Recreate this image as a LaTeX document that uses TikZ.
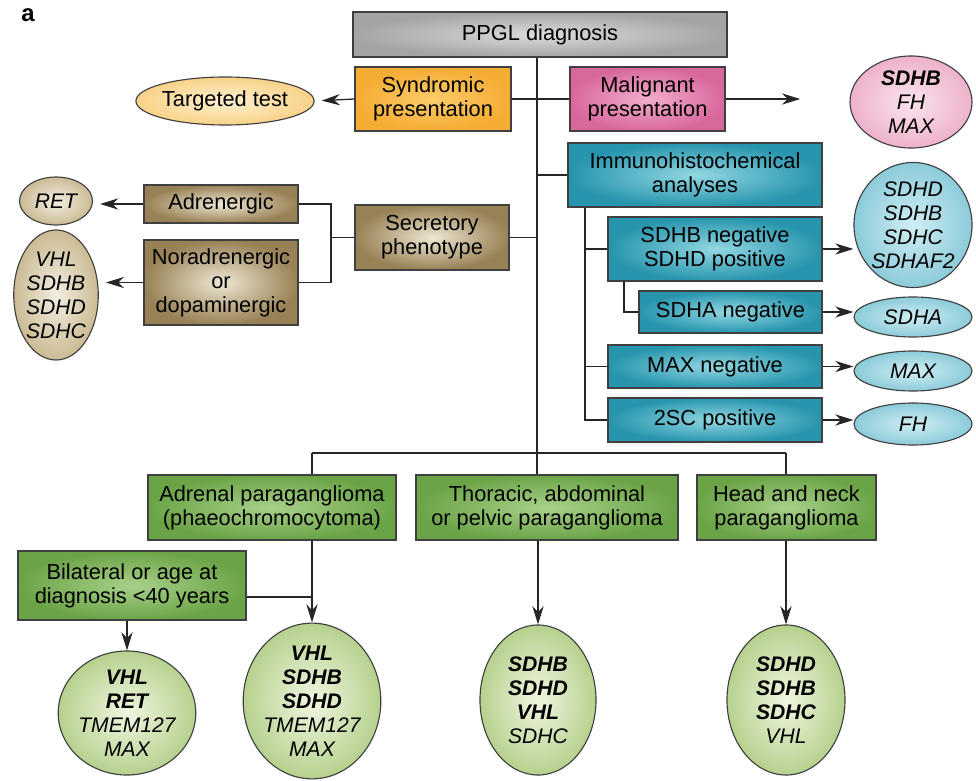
\documentclass[tikz,border=0pt]{standalone}
\usepackage{fontspec}
\setmainfont{Liberation Sans}
\usetikzlibrary{shapes.geometric,arrows.meta}

\definecolor{greyin}{HTML}{DCDCDC}
\definecolor{greyout}{HTML}{A4A4A4}
\definecolor{orangein}{HTML}{FCCB6A}
\definecolor{orangeout}{HTML}{F5AC33}
\definecolor{targin}{HTML}{FEF0CF}
\definecolor{targout}{HTML}{F8D288}
\definecolor{pinkin}{HTML}{F2AECD}
\definecolor{pinkout}{HTML}{D8679C}
\definecolor{malin}{HTML}{FBE3EE}
\definecolor{malout}{HTML}{EDB2CB}
\definecolor{tealin}{HTML}{92D7E2}
\definecolor{tealout}{HTML}{2795AD}
\definecolor{tealellin}{HTML}{D0EEF3}
\definecolor{tealellout}{HTML}{8CCBDA}
\definecolor{brownin}{HTML}{EEE7D3}
\definecolor{brownout}{HTML}{988155}
\definecolor{brownellin}{HTML}{F3EEE2}
\definecolor{brownellout}{HTML}{CBBB94}
\definecolor{greenin}{HTML}{A8D089}
\definecolor{greenout}{HTML}{6BA447}
\definecolor{greenellin}{HTML}{F0F6E0}
\definecolor{greenellout}{HTML}{B6D18E}

\tikzset{
  box/.style={draw=black!75, line width=0.8pt, rectangle, inner sep=0pt, align=center,
    font=\fontsize{15.5}{17}\selectfont},
  greybox/.style={box, inner color=greyin, outer color=greyout},
  orangebox/.style={box, inner color=orangein, outer color=orangeout},
  pinkbox/.style={box, inner color=pinkin, outer color=pinkout},
  tealbox/.style={box, inner color=tealin, outer color=tealout},
  brownbox/.style={box, inner color=brownin, outer color=brownout},
  greenbox/.style={box, inner color=greenin, outer color=greenout},
  gene/.style={draw=black!75, line width=0.8pt, ellipse, inner sep=0pt, align=center,
    font=\fontsize{15}{17}\selectfont\itshape},
  targell/.style={gene, font=\fontsize{15.5}{17}\selectfont, inner color=targin, outer color=targout},
  pinkell/.style={gene, inner color=malin, outer color=malout},
  tealell/.style={gene, inner color=tealellin, outer color=tealellout},
  brownell/.style={gene, inner color=brownellin, outer color=brownellout},
  greenell/.style={gene, inner color=greenellin, outer color=greenellout},
  conn/.style={draw=black!85, line width=0.9pt},
  arr/.style={conn, -{Stealth[length=13pt,width=8pt]}}
}

\begin{document}
\begin{tikzpicture}[x=0.025cm,y=-0.025cm]
\useasboundingbox (0,0) rectangle (976,781);

\node[font=\bfseries\fontsize{17}{17}\selectfont] (lbl) at (28,15) {a};

\node[greybox, minimum width=9.35cm, minimum height=1.125cm] (diag) at (540,34.5) {PPGL diagnosis};
\node[orangebox, minimum width=3.9cm, minimum height=1.6cm] (synd) at (433,99) {Syndromic\\presentation};
\node[pinkbox, minimum width=3.875cm, minimum height=1.6cm] (malig) at (647.5,99) {Malignant\\presentation};
\node[tealbox, minimum width=6.35cm, minimum height=1.6cm] (immuno) at (695,175) {Immunohistochemical\\analyses};
\node[tealbox, minimum width=5.35cm, minimum height=1.6cm] (sdhbneg) at (715,249) {SDHB negative\\SDHD positive};
\node[tealbox, minimum width=4.575cm, minimum height=1.05cm] (sdhaneg) at (730.5,312) {SDHA negative};
\node[tealbox, minimum width=5.35cm, minimum height=1.075cm] (maxneg) at (715,366.5) {MAX negative};
\node[tealbox, minimum width=5.35cm, minimum height=1.1cm] (scpos) at (715,420) {2SC positive};
\node[brownbox, minimum width=3.85cm, minimum height=1.625cm] (secr) at (432,237.5) {Secretory\\phenotype};
\node[brownbox, minimum width=3.85cm, minimum height=0.95cm] (adren) at (221,204) {Adrenergic};
\node[brownbox, minimum width=3.85cm, minimum height=2.125cm] (noradr) at (221,282.5) {Noradrenergic\\or\\dopaminergic};
\node[greenbox, minimum width=6.2cm, minimum height=1.625cm] (adrenal) at (272,507.5) {Adrenal paraganglioma\\(phaeochromocytoma)};
\node[greenbox, minimum width=6.55cm, minimum height=1.625cm] (thorac) at (547,507.5) {Thoracic, abdominal\\or pelvic paraganglioma};
\node[greenbox, minimum width=4.475cm, minimum height=1.625cm] (headneck) at (786.5,507.5) {Head and neck\\paraganglioma};
\node[greenbox, minimum width=5.7cm, minimum height=1.725cm] (bilat) at (132,585.5) {Bilateral or age at\\diagnosis <40 years};

\node[targell, minimum width=3.75cm, minimum height=1.2cm] (targ) at (225,101) {Targeted test};
\node[pinkell, minimum width=3.05cm, minimum height=2.3cm] (malgenes) at (911,102) {\textbf{SDHB}\\FH\\MAX};
\node[tealell, minimum width=2.95cm, minimum height=3.125cm] (sdhgenes) at (913,225) {SDHD\\SDHB\\SDHC\\SDHAF2};
\node[tealell, minimum width=2.95cm, minimum height=1cm] (sdhagene) at (913,317) {SDHA};
\node[tealell, minimum width=2.95cm, minimum height=1cm] (maxgene) at (913,371) {MAX};
\node[tealell, minimum width=2.95cm, minimum height=1.05cm] (fhgene) at (913,424) {FH};
\node[brownell, minimum width=1.825cm, minimum height=1.2cm] (retgene) at (56,201) {RET};
\node[brownell, minimum width=1.825cm, minimum height=3.25cm] (vhlgenes) at (56,295) {VHL\\SDHB\\SDHD\\SDHC};
\node[greenell, minimum width=2.95cm, minimum height=3.1cm] (bilgenes) at (127,713) {\textbf{VHL}\\\textbf{RET}\\TMEM127\\MAX};
\node[greenell, minimum width=2.925cm, minimum height=3.8cm] (adrgenes) at (312,701) {\textbf{VHL}\\\textbf{SDHB}\\\textbf{SDHD}\\TMEM127\\MAX};
\node[greenell, minimum width=2.9cm, minimum height=3.75cm] (thogenes) at (538,700) {\textbf{SDHB}\\\textbf{SDHD}\\\textbf{VHL}\\SDHC};
\node[greenell, minimum width=2.95cm, minimum height=3.75cm] (hngenes) at (786,700) {\textbf{SDHD}\\\textbf{SDHB}\\\textbf{SDHC}\\VHL};

\coordinate (tb) at (537,453);
\coordinate (ib) at (585,420);
\coordinate (sb) at (624,312);
\coordinate (lb) at (331,239);
\coordinate (hl) at (312,453);
\coordinate (hr) at (786,453);
\coordinate (bj) at (312,597);

\draw[conn] (diag.south -| tb) -- (tb);
\draw[conn] (synd.east) -- (malig.west);
\draw[conn] (immuno.west -| tb) -- (immuno.west);
\draw[conn] (secr.east) -- (secr.east -| tb);
\draw[conn] (immuno.south -| ib) -- (scpos.west -| ib) -- (scpos.west);
\draw[conn] (sdhbneg.west -| ib) -- (sdhbneg.west);
\draw[conn] (maxneg.west -| ib) -- (maxneg.west);
\draw[conn] (sdhbneg.south -| sb) -- (sdhaneg.west -| sb) -- (sdhaneg.west);
\draw[conn] (secr.west) -- (secr.west -| lb);
\draw[conn] (adren.east) -- (adren.east -| lb) -- (noradr.east -| lb) -- (noradr.east);
\draw[conn] (hl) -- (hr);
\draw[conn] (tb) -- (thorac.north -| tb);
\draw[conn] (hl) -- (adrenal.north -| hl);
\draw[conn] (hr) -- (headneck.north -| hr);
\draw[conn] (bilat.east |- bj) -- (bj);

\draw[arr, shorten >=5pt] (synd.west) -- (targ.east);
\draw[arr, shorten >=35pt] (malig.east) -- (malgenes.west |- malig.east);
\draw[arr] (sdhbneg.east) -- (sdhgenes.west |- sdhbneg.east);
\draw[arr] (sdhaneg.east) -- (sdhagene.west |- sdhaneg.east);
\draw[arr] (maxneg.east) -- (maxgene.west |- maxneg.east);
\draw[arr] (scpos.east) -- (fhgene.west |- scpos.east);
\draw[arr, shorten >=5pt] (adren.west) -- (retgene.east |- adren.west);
\draw[arr, shorten >=5pt] (noradr.west) -- (vhlgenes.east |- noradr.west);
\draw[arr] (adrenal.south -| adrgenes) -- (adrgenes.north);
\draw[arr] (bilat.south -| bilgenes) -- (bilgenes.north);
\draw[arr] (thorac.south -| thogenes) -- (thogenes.north);
\draw[arr] (headneck.south -| hngenes) -- (hngenes.north);
\end{tikzpicture}
\end{document}
